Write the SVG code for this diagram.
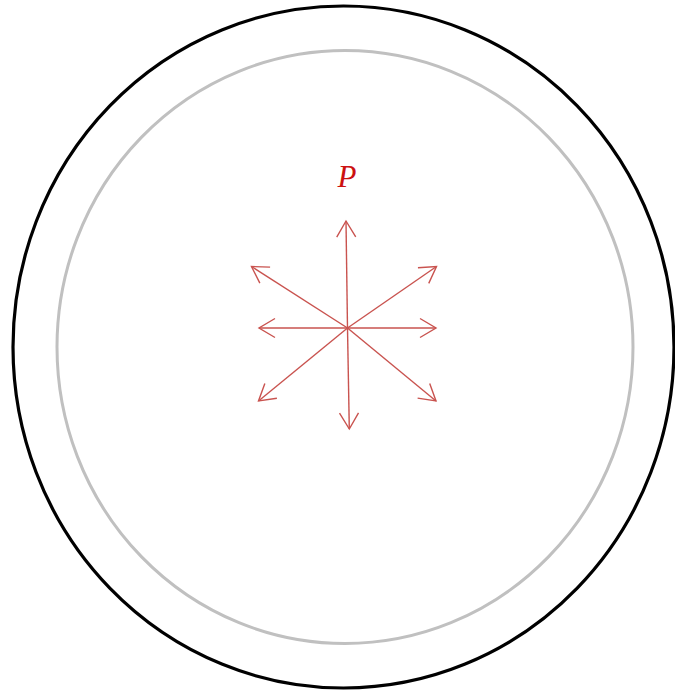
<svg xmlns="http://www.w3.org/2000/svg" width="675" height="694" viewBox="0 0 675 694">
<style>
.outer{fill:none;stroke:#000;stroke-width:3.2}
.inner{fill:none;stroke:#c0c0c0;stroke-width:3}
.arr{fill:none;stroke:#c9534f;stroke-width:1.4;marker-end:url(#head)}
.lbl{font-family:"Liberation Serif",serif;font-style:italic;font-size:31px;fill:#cc1111;text-anchor:middle}
</style>
<defs>
<marker id="head" markerUnits="userSpaceOnUse" markerWidth="40" markerHeight="40" viewBox="-20 -20 40 40" refX="0" refY="0" orient="auto">
<path d="M-16,-9.5 L0,0 L-16,9.5" fill="none" stroke="#c9534f" stroke-width="1.4"/>
</marker>
</defs>
<rect width="675" height="694" fill="#fff"/>
<g id="outer-circle"><ellipse class="outer" cx="343.5" cy="347" rx="330.5" ry="341"/></g>
<g id="inner-circle"><ellipse class="inner" cx="345" cy="347" rx="288" ry="296.5"/></g>
<g id="label-P"><text class="lbl" x="347" y="186.5">P</text></g>
<g id="connectors">
<line class="arr" x1="347.5" y1="328" x2="346" y2="221"/>
<line class="arr" x1="347.5" y1="328" x2="349.3" y2="429"/>
<line class="arr" x1="347.5" y1="328" x2="259" y2="328"/>
<line class="arr" x1="347.5" y1="328" x2="436" y2="328"/>
<line class="arr" x1="347.5" y1="328" x2="251.5" y2="266.5"/>
<line class="arr" x1="347.5" y1="328" x2="436.5" y2="266.5"/>
<line class="arr" x1="347.5" y1="328" x2="258.5" y2="401"/>
<line class="arr" x1="347.5" y1="328" x2="436" y2="401"/>
</g>
</svg>
